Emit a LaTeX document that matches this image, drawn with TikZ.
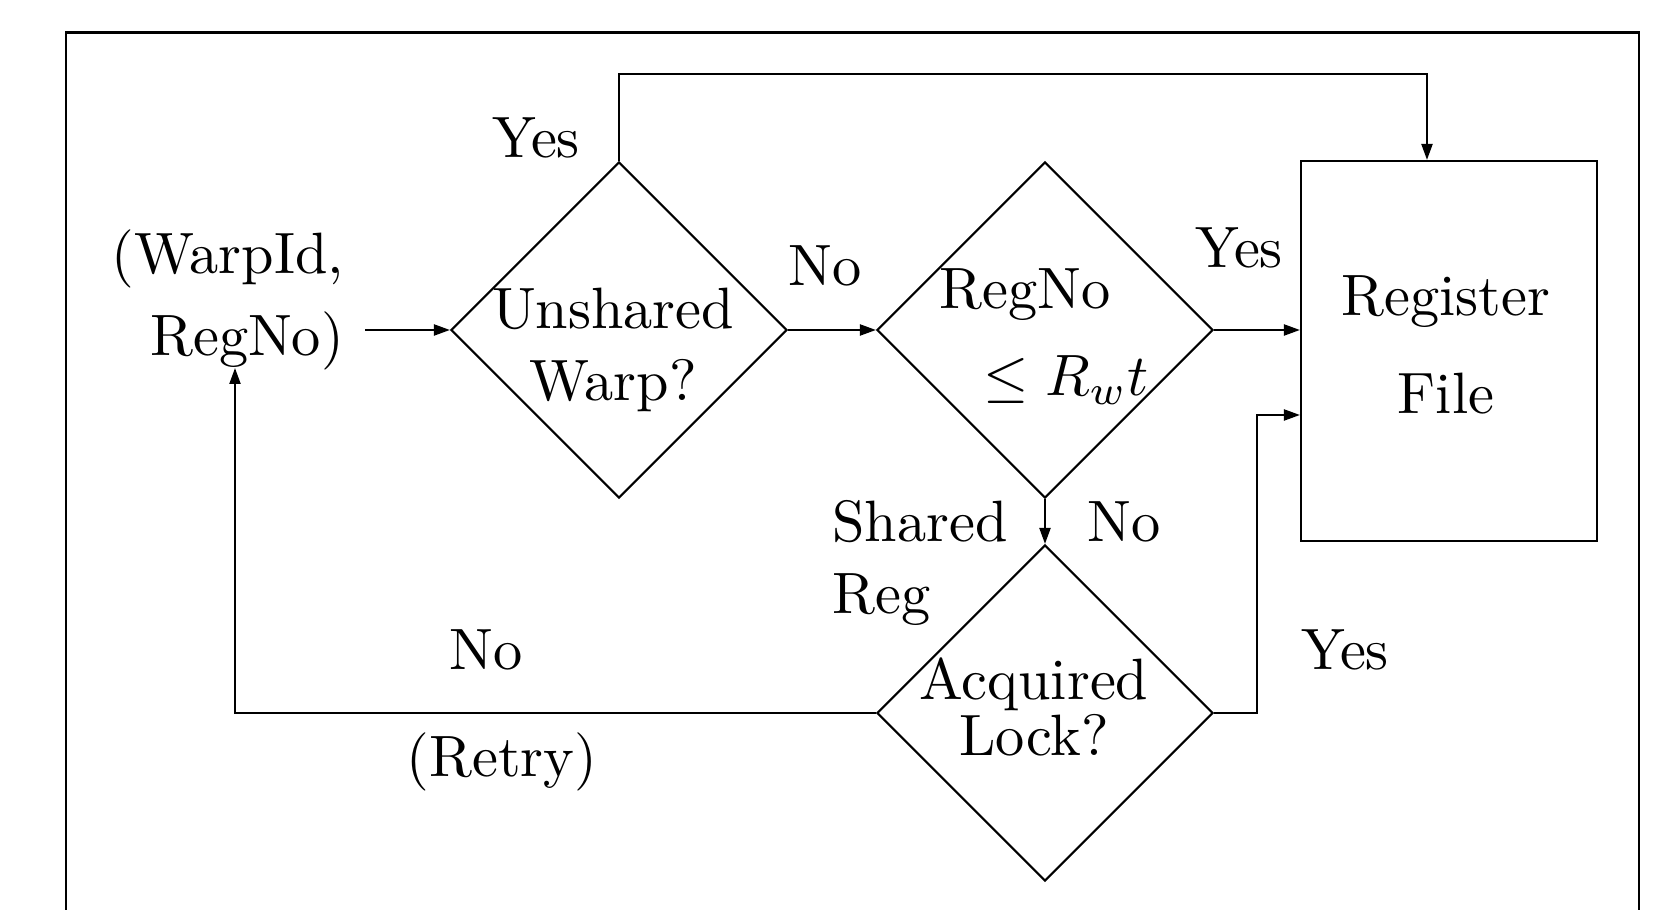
\documentclass[tikz,border=0pt]{standalone}
\usetikzlibrary{shapes.geometric,arrows.meta}
\begin{document}
\begin{tikzpicture}[line width=0.6pt, txt/.style={font=\fontsize{10}{12.4}\selectfont, scale=1.66}, decision/.style={diamond, draw, inner sep=0pt, minimum width=3.36cm, minimum height=3.36cm}, store/.style={rectangle, draw, inner sep=0pt, minimum width=2.96cm, minimum height=3.80cm}, arr/.style={-{Triangle[length=1.6mm, width=1.1mm]}}]
	\useasboundingbox (0,0) rectangle (16.7,-9.1);
	\draw[line width=0.85pt] (0.66,-9.15) -- (0.66,-0.33) -- (16.39,-0.33) -- (16.39,-9.15);
	% shapes
	\node[decision] (warp) at (6.19, -3.30) {};
	\node[decision] (rwt) at (10.45, -3.30) {};
	\node[decision] (lock) at (10.45, -7.13) {};
	\node[store] (regfile) at (14.49, -3.51) {};
	% texts
	\node[txt, align=right, anchor=east] (in) at (3.65, -3.00) {(WarpId,\\[1.6pt]RegNo)};
	\node[txt, align=center] (warptext) at (6.13, -3.50) {Unshared\\Warp?};
	\node[txt] (rwttop) at (10.25, -2.95) {RegNo};
	\node[txt] (rwtbot) at (10.66, -3.80) {$\leq R_wt$};
	\node[txt, align=center] (regtext) at (14.46, -3.45) {Register\\[4.4pt]File};
	\node[txt, align=center] (locktext) at (10.34, -7.07) {Acquired\\[-2.65pt]Lock?};
	\node[txt, align=left, anchor=west] (shared) at (8.11, -5.63) {Shared\\Reg};
	\node[txt] (yesa) at (5.36, -1.38) {Yes};
	\node[txt] (noa) at (8.25, -2.66) {No};
	\node[txt] (yesb) at (12.39, -2.48) {Yes};
	\node[txt] (nob) at (11.24, -5.22) {No};
	\node[txt] (yesc) at (13.45, -6.50) {Yes};
	\node[txt] (noc) at (4.86, -6.50) {No};
	\node[txt] (retry) at (5.02, -7.62) {(Retry)};
	% bends
	\coordinate (top) at (14.27, -0.74);
	\coordinate (bend) at (12.57, -4.15);
	\coordinate (back) at (2.35, -7.13);
	\coordinate (backtop) at (2.35, -3.68);
	% connectors
	\draw[arr] (in.east |- warp.west) -- (warp.west);
	\draw[arr] (warp.north) |- (top) -- (top |- regfile.north);
	\draw[arr] (warp.east) -- (rwt.west);
	\draw[arr] (rwt.east) -- (rwt.east -| regfile.west);
	\draw[arr] (rwt.south) -- (lock.north);
	\draw[arr] (lock.east) -| (bend) -- (bend -| regfile.west);
	\draw[arr] (lock.west) -- (back) -- (backtop);
\end{tikzpicture}
\end{document}
